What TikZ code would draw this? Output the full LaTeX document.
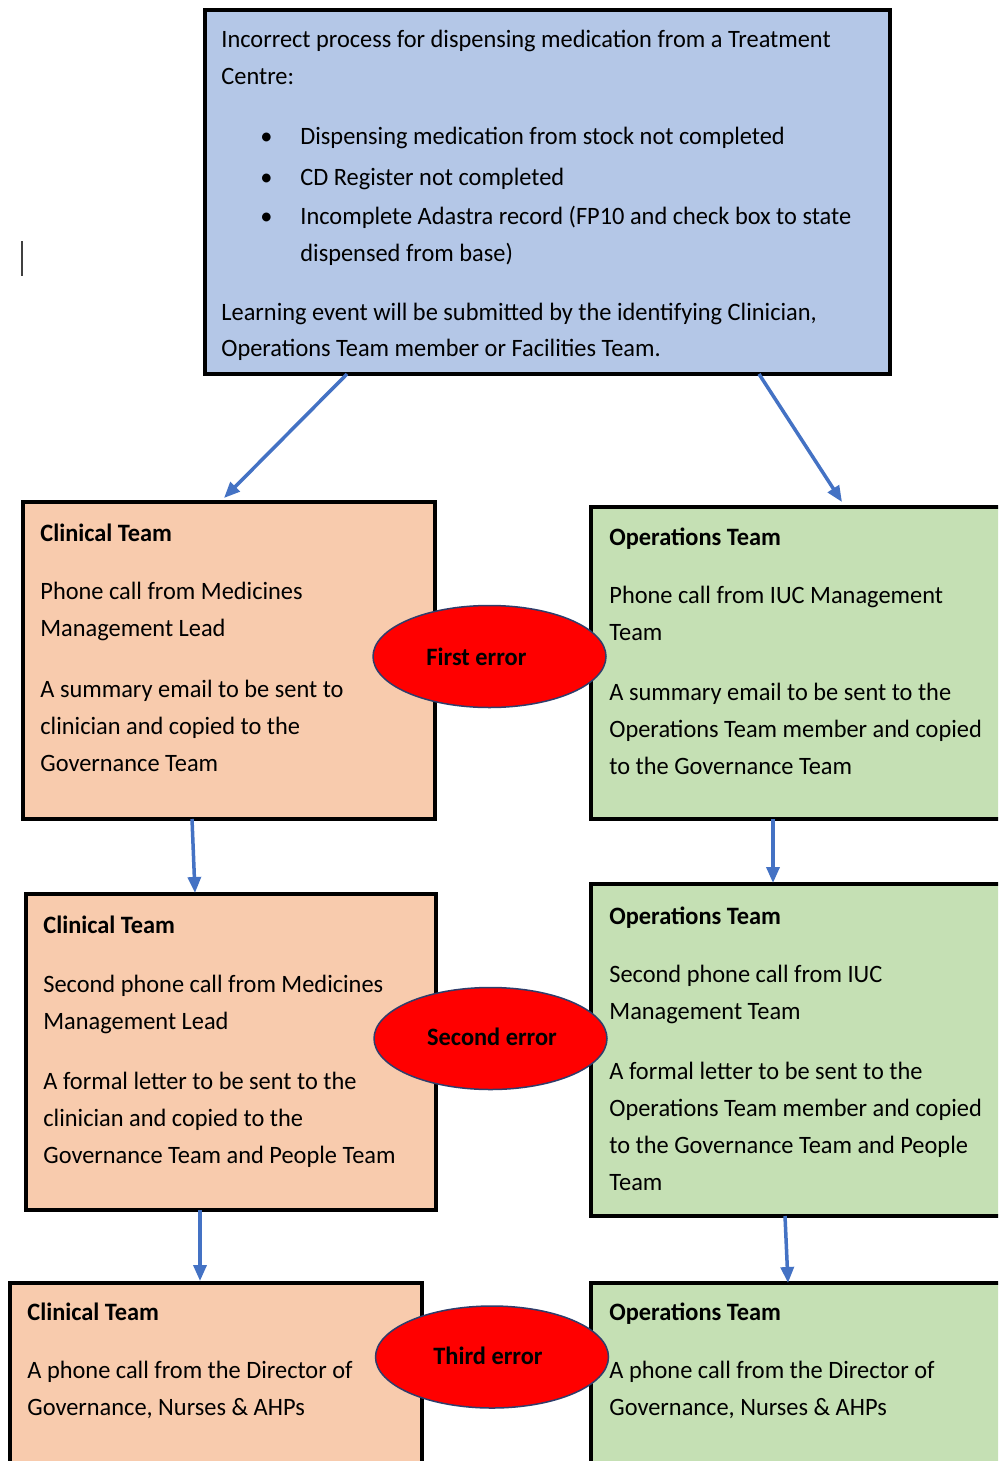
\documentclass[tikz,border=0pt]{standalone}
\usepackage{fontspec}
\setmainfont{Carlito}[FakeStretch=0.975]
\usetikzlibrary{arrows.meta,shapes.geometric,calc}
\definecolor{topblue}{HTML}{B4C7E7}
\definecolor{peach}{HTML}{F8CBAD}
\definecolor{lgreen}{HTML}{C5E0B4}
\definecolor{arrblue}{HTML}{4472C4}
\definecolor{errborder}{HTML}{2F3D6B}
\definecolor{errred}{HTML}{FF0000}
\begin{document}
\begin{tikzpicture}[x=0.5pt,y=-0.5pt,
  box/.style={draw=black, line width=2.25pt, anchor=north west, inner sep=0pt, outer sep=0pt, rectangle},
  txt/.style={anchor=north west, inner sep=0pt, align=left, font=\fontsize{12.5}{18.5}\selectfont, text=black},
  errell/.style={ellipse, draw=errborder, line width=0.75pt, fill=errred, inner sep=0pt, outer sep=0pt, minimum width=116.5pt, minimum height=51pt},
  errtxt/.style={font=\fontsize{12.5}{18.5}\selectfont\bfseries, inner sep=0pt, text=black},
  arr/.style={draw=arrblue, line width=1.75pt, -{Triangle[length=8pt,width=6.5pt]}}]
\useasboundingbox (0,0) rectangle (998,1461);
\clip (0,0) rectangle (998,1461);
\fill[white] (0,0) rectangle (998,1461);

% boxes
\node[box, fill=topblue, minimum width=342.5pt, minimum height=182pt] (top) at (205,10) {};
\node[box, fill=peach, minimum width=206pt, minimum height=158.5pt] (c1) at (23,502) {};
\node[box, fill=lgreen, minimum width=209.5pt, minimum height=156pt] (o1) at (591,507) {};
\node[box, fill=peach, minimum width=205pt, minimum height=158pt] (c2) at (26,894) {};
\node[box, fill=lgreen, minimum width=209.5pt, minimum height=166pt] (o2) at (591,884) {};
\node[box, fill=peach, minimum width=206pt, minimum height=98.5pt] (c3) at (10,1283) {};
\node[box, fill=lgreen, minimum width=209.5pt, minimum height=98.5pt] (o3) at (591,1283) {};

% texts
\node[txt] (toptxt) at (221,21) {\strut Incorrect process for dispensing medication from a Treatment\\
Centre:\\[11.5pt]
\hspace*{19.5pt}\makebox[20pt][l]{•}Dispensing medication from stock not completed\\[2pt]
\hspace*{19.5pt}\makebox[20pt][l]{•}CD Register not completed\\[1pt]
\hspace*{19.5pt}\makebox[20pt][l]{•}Incomplete Adastra record (FP10 and check box to state\\
\hspace*{39.5pt}dispensed from base)\\[11pt]
Learning event will be submitted by the identifying Clinician,\\[-0.5pt]
Operations Team member or Facilities Team.};

\node[txt] (c1txt) at (40,515) {\strut\textbf{Clinical Team}\\[10.5pt]
Phone call from Medicines\\
Management Lead\\[12pt]
A summary email to be sent to\\
clinician and copied to the\\
Governance Team};

\node[txt] (o1txt) at (609,519) {\strut\textbf{Operations Team}\\[10.5pt]
Phone call from IUC Management\\
Team\\[11.5pt]
A summary email to be sent to the\\
Operations Team member and copied\\
to the Governance Team};

\node[txt] (c2txt) at (43,907) {\strut\textbf{Clinical Team}\\[11pt]
Second phone call from Medicines\\
Management Lead\\[11.5pt]
A formal letter to be sent to the\\
clinician and copied to the\\
Governance Team and People Team};

\node[txt] (o2txt) at (609,898) {\strut\textbf{Operations Team}\\[10.5pt]
Second phone call from IUC\\
Management Team\\[11.5pt]
A formal letter to be sent to the\\
Operations Team member and copied\\
to the Governance Team and People\\
Team};

\node[txt] (c3txt) at (27,1294) {\strut\textbf{Clinical Team}\\[10.5pt]
A phone call from the Director of\\
Governance, Nurses \& AHPs};

\node[txt] (o3txt) at (609,1294) {\strut\textbf{Operations Team}\\[10.5pt]
A phone call from the Director of\\
Governance, Nurses \& AHPs};

% error ellipses
\node[errell] (e1) at (489.5,656.5) {};
\node[errtxt] (e1t) at (476.5,657) {First error};
\node[errell] (e2) at (490.5,1038.5) {};
\node[errtxt] (e2t) at (492,1037) {Second error};
\node[errell] (e3) at (492,1357) {};
\node[errtxt] (e3t) at (488,1356) {Third error};

% arrows
\draw[arr] ([xshift=71pt]top.south west) -- ([xshift=100.5pt,yshift=2pt]c1.north west);
\draw[arr] ([xshift=277pt]top.south west) -- ([xshift=125.5pt,yshift=2.5pt]o1.north west);
\draw[arr] ([xshift=84.5pt]c1.south west) -- ([xshift=84.5pt,yshift=0.5pt]c2.north west);
\draw[arr] ([xshift=91pt]o1.south west) -- ([xshift=91pt,yshift=0.5pt]o2.north west);
\draw[arr] ([xshift=87pt]c2.south west) -- ([xshift=95pt,yshift=1pt]c3.north west);
\draw[arr] ([xshift=97pt]o2.south west) -- ([xshift=98.5pt,yshift=0pt]o3.north west);

% text cursor mark
\draw[line width=1pt, black!75] (22,241) -- (22,276);
\end{tikzpicture}
\end{document}
